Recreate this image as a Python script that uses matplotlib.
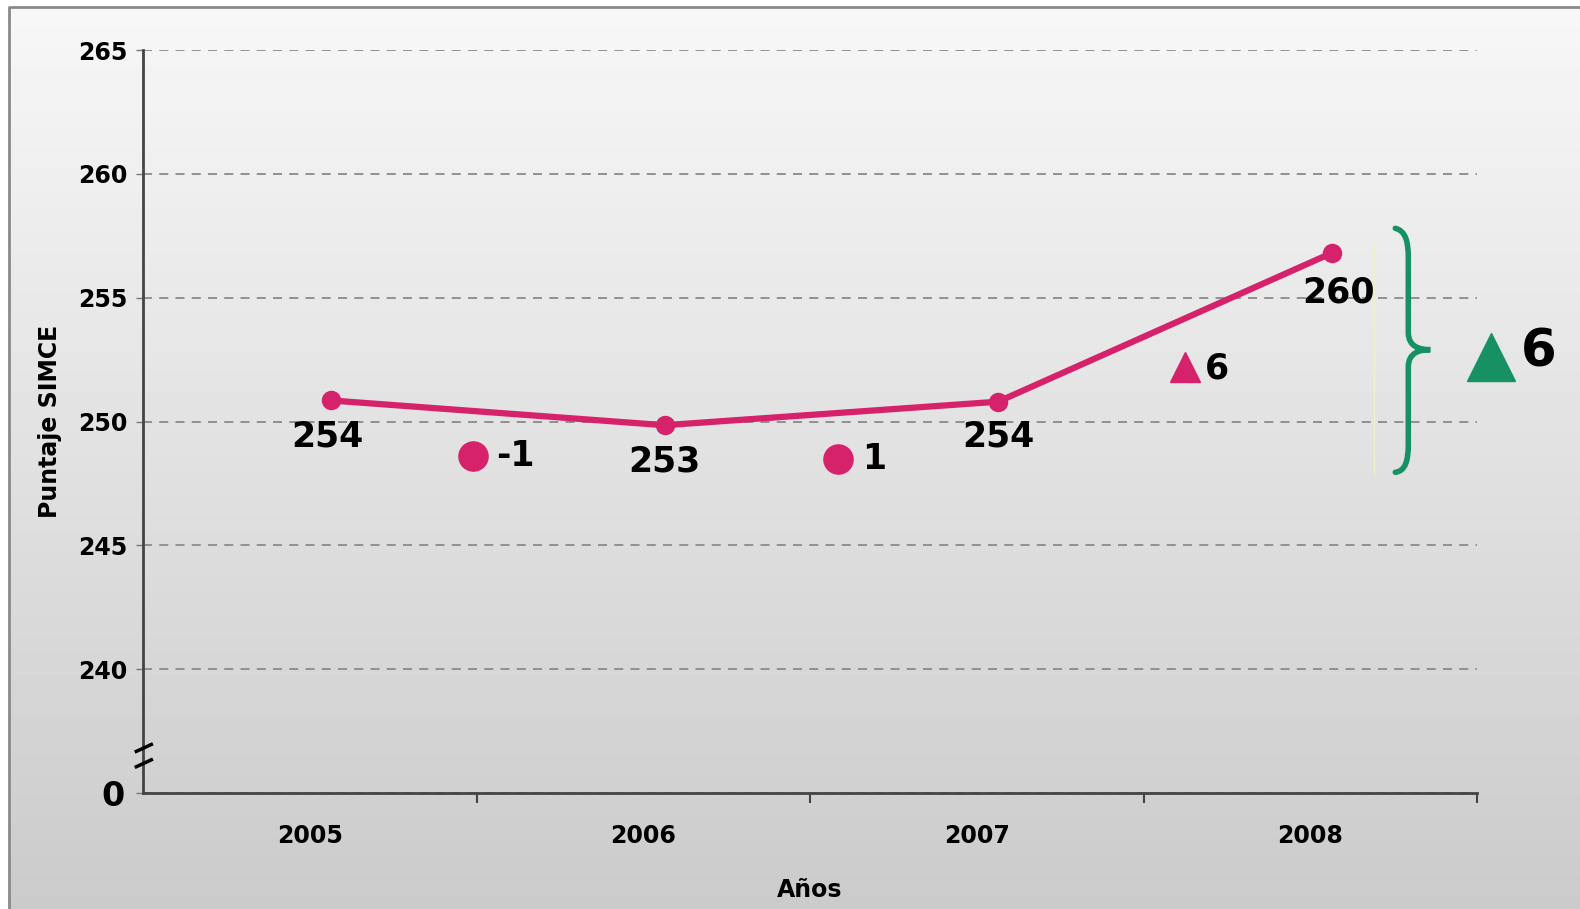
"""Puntaje SIMCE 2005-2008 line chart with change markers."""

import matplotlib

matplotlib.use("Agg")
import matplotlib.pyplot as plt
import numpy as np
from matplotlib.path import Path
from matplotlib.patches import PathPatch, Rectangle

# data
years = ["2005", "2006", "2007", "2008"]
plotted = [250.85, 249.85, 250.8, 256.8]   # where the points sit on the axis
labels = ["254", "253", "254", "260"]       # printed values
change_vals = ["-1", "1"]
change_y = [248.6, 248.5]
rise_small = "6"
rise_total = "6"
yticks = [235, 240, 245, 250, 255, 260, 265]
ytick_labels = ["0", "240", "245", "250", "255", "260", "265"]

PINK = "#d6226a"
GREEN = "#179164"

fig = plt.figure(figsize=(15.8, 9.09), dpi=100)

# background gradient + frame
bg = fig.add_axes([0, 0, 1, 1], zorder=-10)
grad = np.linspace(0.97, 0.795, 256).reshape(-1, 1)
bg.imshow(grad, aspect="auto", cmap="gray", vmin=0, vmax=1,
          extent=[0, 1, 0, 1], origin="upper")
bg.add_patch(Rectangle((0, 0), 9 / 1580, 1, color="white", zorder=2))
bg.add_patch(Rectangle((0, 1 - 7 / 909), 1, 7 / 909, color="white", zorder=2))
bg.plot([9 / 1580, 9 / 1580, 1], [0, 1 - 7 / 909, 1 - 7 / 909],
        color="#8a8a8a", lw=2, zorder=3)
bg.set_xlim(0, 1)
bg.set_ylim(0, 1)
bg.axis("off")

ax = fig.add_axes([143 / 1580, 1 - 793 / 909, (1477 - 143) / 1580, (793 - 50) / 909])
ax.patch.set_alpha(0)

x = np.arange(len(years)) + 0.064
ax.plot(x, plotted, color=PINK, lw=4.5, marker="o", ms=13, zorder=5,
        solid_capstyle="round")

ax.set_xlim(-0.5, 3.5)
ax.set_ylim(235, 265)

# data labels
label_y = [249.4, 248.4, 249.4, 255.2]
label_dx = [-0.01, 0.0, 0.0, 0.02]
for xi, yi, dx, t in zip(x, label_y, label_dx, labels):
    ax.text(xi + dx, yi, t, ha="center", va="center", fontsize=25,
            fontweight="bold", color="black", zorder=6)

# year-to-year change markers
for cx, cy, t in zip([0.49, 1.585], change_y, change_vals):
    ax.plot(cx, cy, "o", color=PINK, ms=21, zorder=6)
    ax.text(cx + 0.07, cy, t, ha="left", va="center", fontsize=25,
            fontweight="bold", color="black", zorder=6)

ax.plot(2.625, 252.2, "^", color=PINK, ms=22, zorder=6)
ax.text(2.685, 252.15, rise_small, ha="left", va="center", fontsize=25,
        fontweight="bold", color="black", zorder=6)

# brace for total rise
verts = [
    (3.255, 257.8), (3.285, 257.7), (3.294, 257.3), (3.294, 256.6),
    (3.294, 253.6),
    (3.294, 253.0), (3.33, 252.9), (3.36, 252.9),
    (3.33, 252.9), (3.294, 252.8), (3.294, 252.2),
    (3.294, 249.1),
    (3.294, 248.4), (3.285, 248.0), (3.255, 247.95),
]
codes = [Path.MOVETO, Path.CURVE4, Path.CURVE4, Path.CURVE4,
         Path.LINETO,
         Path.CURVE4, Path.CURVE4, Path.CURVE4,
         Path.CURVE4, Path.CURVE4, Path.CURVE4,
         Path.LINETO,
         Path.CURVE4, Path.CURVE4, Path.CURVE4]
ax.add_patch(PathPatch(Path(verts, codes), facecolor="none", edgecolor=GREEN,
                       lw=4, capstyle="round", clip_on=False, zorder=6))
ax.plot([3.192, 3.192], [247.9, 257.2], color="#f2f0c8", lw=1, zorder=1)

ax.plot(3.543, 252.6, "^", color=GREEN, ms=35, clip_on=False, zorder=6)
ax.text(3.632, 252.8, rise_total, ha="left", va="center", fontsize=37,
        fontweight="bold", color="black", clip_on=False, zorder=6)

# axes styling
for side in ["top", "right"]:
    ax.spines[side].set_visible(False)
for side in ["left", "bottom"]:
    ax.spines[side].set_color("#444444")
    ax.spines[side].set_linewidth(2)

ax.set_yticks(yticks)
ax.set_yticklabels(ytick_labels, fontsize=17, fontweight="bold")
ax.tick_params(axis="y", length=5, width=1, color="#777777", pad=6)
zero = ax.get_yticklabels()[0]
zero.set_fontsize(24)
zero.set_x(-0.002)

ax.set_xticks([0.5, 1.5, 2.5, 3.5])
ax.set_xticklabels([])
ax.set_xticks(np.arange(len(years)), minor=True)
ax.set_xticklabels(years, minor=True, fontsize=17, fontweight="bold")
ax.tick_params(axis="x", which="major", length=7, width=1.5, color="#444444")
ax.tick_params(axis="x", which="minor", length=0, pad=22)

ax.yaxis.grid(True, linestyle=(0, (5, 4)), color="#8a8a8a", lw=1.3)
ax.set_axisbelow(True)

ax.set_xlabel("Años", fontsize=17, fontweight="bold", labelpad=22)
ax.set_ylabel("Puntaje SIMCE", fontsize=17, fontweight="bold", labelpad=12)

# axis break marks
for yy in [236.82, 236.2]:
    ax.plot([-0.52, -0.475], [yy - 0.14, yy + 0.14], color="black", lw=2.5,
            clip_on=False, zorder=7)

fig.savefig("out.png", dpi=100)
